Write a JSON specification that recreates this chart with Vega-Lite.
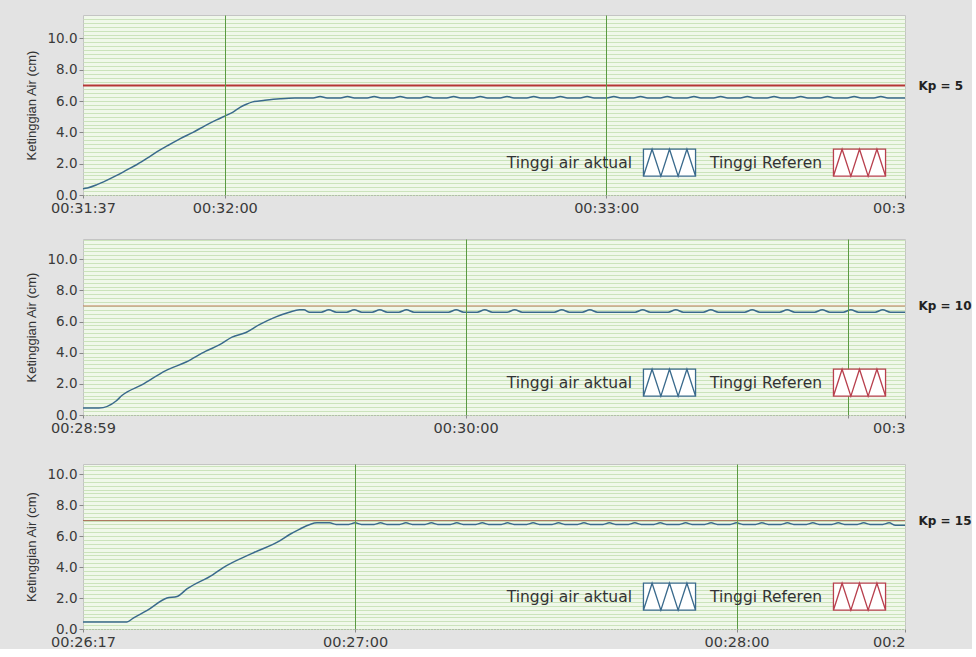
{
  "$schema": "https://vega.github.io/schema/vega-lite/v6.json",
  "background": "#e3e3e3",
  "padding": {"left": 25, "top": 12, "right": 0, "bottom": 0},
  "spacing": 18,
  "resolve": {"scale": {"color": "independent"}, "legend": {"color": "independent"}},
  "config": {
    "view": {"fill": "#f0f8ea", "stroke": "#c4c4c4"},
    "axis": {
      "labelFont": "DejaVu Sans", "labelFontSize": 13.5, "labelColor": "#3a3a3a",
      "titleFont": "Liberation Sans", "titleFontSize": 13, "titleFontWeight": "normal", "titleColor": "#333333",
      "tickColor": "#888888", "domainColor": "#999999"
    },
    "axisX": {"labelFontSize": 14.5},
    "legend": {
      "orient": "bottom-right", "offset": 16, "direction": "horizontal", "title": null, "zindex": 2,
      "symbolType": "M-1.93,-1H1.93V1H-1.93Z M-1.93,1L-1.29,-1L-0.64,1L0,-1L0.64,1L1.29,-1L1.93,1",
      "symbolSize": 729, "symbolStrokeWidth": 1.3, "symbolFillColor": "white",
      "labelAlign": "right", "labelOffset": -52, "columnPadding": 10,
      "labelFont": "DejaVu Sans", "labelFontSize": 15.5, "labelColor": "#333333", "labelLimit": 300
    }
  },
  "vconcat": [
    {
      "width": 822, "height": 180,
      "resolve": {"scale": {"y": "independent"}},
      "layer": [
        {
          "data": {"values": [
            {"t":1897.7,"h":0.4},{"t":1898.4,"h":0.45},{"t":1899.9,"h":0.66},{"t":1901.5,"h":0.95},{"t":1903.0,"h":1.25},{"t":1904.6,"h":1.6},{"t":1906.2,"h":1.95},{"t":1907.8,"h":2.35},{"t":1909.3,"h":2.75},{"t":1911.0,"h":3.15},{"t":1913.0,"h":3.6},{"t":1915.0,"h":4.0},{"t":1917.0,"h":4.45},{"t":1918.7,"h":4.8},{"t":1920.3,"h":5.1},{"t":1921.3,"h":5.3},{"t":1922.4,"h":5.6},{"t":1923.4,"h":5.8},{"t":1924.4,"h":5.95},{"t":1926.3,"h":6.05},{"t":1928.7,"h":6.15},{"t":1931.0,"h":6.2},
            {"t":1933.9,"h":6.2},{"t":1935.0,"h":6.3},{"t":1936.1,"h":6.2},
            {"t":1938.2,"h":6.2},{"t":1939.3,"h":6.3},{"t":1940.4,"h":6.2},
            {"t":1942.4,"h":6.2},{"t":1943.5,"h":6.3},{"t":1944.6,"h":6.2},
            {"t":1946.5,"h":6.2},{"t":1947.6,"h":6.3},{"t":1948.7,"h":6.2},
            {"t":1950.7,"h":6.2},{"t":1951.8,"h":6.3},{"t":1952.9,"h":6.2},
            {"t":1954.9,"h":6.2},{"t":1956.0,"h":6.3},{"t":1957.1,"h":6.2},
            {"t":1959.1,"h":6.2},{"t":1960.2,"h":6.3},{"t":1961.3,"h":6.2},
            {"t":1963.3,"h":6.2},{"t":1964.4,"h":6.3},{"t":1965.5,"h":6.2},
            {"t":1967.5,"h":6.2},{"t":1968.6,"h":6.3},{"t":1969.7,"h":6.2},
            {"t":1971.7,"h":6.2},{"t":1972.8,"h":6.3},{"t":1973.9,"h":6.2},
            {"t":1975.9,"h":6.2},{"t":1977.0,"h":6.3},{"t":1978.1,"h":6.2},
            {"t":1980.1,"h":6.2},{"t":1981.2,"h":6.3},{"t":1982.3,"h":6.2},
            {"t":1984.3,"h":6.2},{"t":1985.4,"h":6.3},{"t":1986.5,"h":6.2},
            {"t":1988.5,"h":6.2},{"t":1989.6,"h":6.3},{"t":1990.7,"h":6.2},
            {"t":1992.7,"h":6.2},{"t":1993.8,"h":6.3},{"t":1994.9,"h":6.2},
            {"t":1996.9,"h":6.2},{"t":1998.0,"h":6.3},{"t":1999.1,"h":6.2},
            {"t":2001.1,"h":6.2},{"t":2002.2,"h":6.3},{"t":2003.3,"h":6.2},
            {"t":2005.3,"h":6.2},{"t":2006.4,"h":6.3},{"t":2007.5,"h":6.2},
            {"t":2009.5,"h":6.2},{"t":2010.6,"h":6.3},{"t":2011.7,"h":6.2},
            {"t":2013.7,"h":6.2},{"t":2014.8,"h":6.3},{"t":2015.9,"h":6.2},
            {"t":2017.9,"h":6.2},{"t":2019.0,"h":6.3},{"t":2020.1,"h":6.2},
            {"t":2022.1,"h":6.2},{"t":2023.2,"h":6.3},{"t":2024.3,"h":6.2},
            {"t":2027.0,"h":6.2}
          ]},
          "mark": {"type": "line", "strokeWidth": 1.5, "interpolate": "monotone"},
          "encoding": {
            "x": {"field": "t", "type": "quantitative",
              "scale": {"domain": [1897.7, 2027], "nice": false, "zero": false},
              "axis": {"title": null, "values": [1897.7, 1920, 1980, 2027], "zindex": 1,
                "labelExpr": "datum.value > 2020 ? slice(utcFormat(datum.value * 1000, '%H:%M:%S'), 0, 4) : utcFormat(datum.value * 1000, '%H:%M:%S')",
                "labelAlign": {"condition": {"test": "datum.value > 2020", "value": "right"}, "value": "center"},
                "labelFlush": false, "labelOverlap": false, "labelPadding": 3,
                "grid": true, "gridColor": {"condition": {"test": "datum.value % 60 == 0", "value": "#5a9a42"}, "value": "transparent"},
                "tickSize": 3, "domainDash": [1, 2]}},
            "y": {"field": "h", "type": "quantitative",
              "scale": {"domain": [0, 11.5], "nice": false},
              "axis": {"title": "Ketinggian Air  (cm)", "values": [0, 2, 4, 6, 8, 10], "format": ".1f", "grid": false, "domain": false, "tickSize": 4, "labelPadding": 2, "titlePadding": 8}},
            "color": {"datum": "Tinggi air aktual", "type": "nominal",
              "scale": {"domain": ["Tinggi air aktual", "Tinggi Referen"], "range": ["#3a6a8c", "#b8404e"]}}
          }
        },
        {
          "data": {"values": [{"sp": 7}]},
          "mark": {"type": "rule", "color": "#b53636", "strokeWidth": 2},
          "encoding": {
            "y": {"field": "sp", "type": "quantitative",
              "scale": {"domain": [0, 11.5], "nice": false},
              "axis": {"orient": "right", "title": null, "zindex": 0,
                "values": [0,0.25,0.5,0.75,1,1.25,1.5,1.75,2,2.25,2.5,2.75,3,3.25,3.5,3.75,4,4.25,4.5,4.75,5,5.25,5.5,5.75,6,6.25,6.5,6.75,7,7.25,7.5,7.75,8,8.25,8.5,8.75,9,9.25,9.5,9.75,10,10.25,10.5,10.75,11,11.25],
                "labelExpr": "datum.value == 7 ? 'Kp = 5' : ''",
                "ticks": false, "domain": false, "grid": true, "gridColor": "#cbe3bb",
                "labelFont": "DejaVu Sans", "labelFontWeight": "bold", "labelFontSize": 12, "labelColor": "#222222",
                "labelPadding": 13, "labelOverlap": false}}
          }
        }
      ]
    },
    {
      "spacing": 24,
      "resolve": {"scale": {"color": "independent"}, "legend": {"color": "independent"}},
      "vconcat": [
        {
          "width": 822, "height": 176,
          "resolve": {"scale": {"y": "independent"}},
          "layer": [
            {
              "data": {"values": [
                {"t":1739.9,"h":0.45},{"t":1742.4,"h":0.45},{"t":1745.1,"h":0.9},{"t":1746.0,"h":1.25},{"t":1749.2,"h":1.95},{"t":1752.9,"h":2.85},{"t":1756.1,"h":3.4},{"t":1759.2,"h":4.1},{"t":1761.3,"h":4.5},{"t":1763.3,"h":5.0},{"t":1765.5,"h":5.3},{"t":1767.6,"h":5.8},{"t":1770.2,"h":6.3},{"t":1772.3,"h":6.6},{"t":1773.9,"h":6.75},{"t":1774.6,"h":6.75},{"t":1775.5,"h":6.6},
                {"t":1777.3,"h":6.6},{"t":1778.5,"h":6.75},{"t":1779.7,"h":6.6},
                {"t":1781.3,"h":6.6},{"t":1782.5,"h":6.75},{"t":1783.7,"h":6.6},
                {"t":1785.3,"h":6.6},{"t":1786.5,"h":6.75},{"t":1787.7,"h":6.6},
                {"t":1789.5,"h":6.6},{"t":1790.7,"h":6.75},{"t":1791.9,"h":6.6},
                {"t":1797.3,"h":6.6},{"t":1798.5,"h":6.75},{"t":1799.7,"h":6.6},
                {"t":1801.8,"h":6.6},{"t":1803.0,"h":6.75},{"t":1804.2,"h":6.6},
                {"t":1806.5,"h":6.6},{"t":1807.7,"h":6.75},{"t":1808.9,"h":6.6},
                {"t":1813.9,"h":6.6},{"t":1815.1,"h":6.75},{"t":1816.3,"h":6.6},
                {"t":1818.3,"h":6.6},{"t":1819.5,"h":6.75},{"t":1820.7,"h":6.6},
                {"t":1826.6,"h":6.6},{"t":1827.8,"h":6.75},{"t":1829.0,"h":6.6},
                {"t":1831.8,"h":6.6},{"t":1833.0,"h":6.75},{"t":1834.2,"h":6.6},
                {"t":1837.3,"h":6.6},{"t":1838.5,"h":6.75},{"t":1839.7,"h":6.6},
                {"t":1843.8,"h":6.6},{"t":1845.0,"h":6.75},{"t":1846.2,"h":6.6},
                {"t":1849.3,"h":6.6},{"t":1850.5,"h":6.75},{"t":1851.7,"h":6.6},
                {"t":1854.8,"h":6.6},{"t":1856.0,"h":6.75},{"t":1857.2,"h":6.6},
                {"t":1859.3,"h":6.6},{"t":1860.5,"h":6.75},{"t":1861.7,"h":6.6},
                {"t":1864.3,"h":6.6},{"t":1865.5,"h":6.75},{"t":1866.7,"h":6.6},
                {"t":1869.0,"h":6.6}
              ]},
              "mark": {"type": "line", "strokeWidth": 1.5, "interpolate": "monotone"},
              "encoding": {
                "x": {"field": "t", "type": "quantitative",
                  "scale": {"domain": [1739.9, 1869], "nice": false, "zero": false},
                  "axis": {"title": null, "values": [1739.9, 1800, 1860, 1869], "zindex": 1,
                    "labelExpr": "datum.value > 1865 ? slice(utcFormat(datum.value * 1000, '%H:%M:%S'), 0, 4) : datum.value > 1850 ? '' : utcFormat(datum.value * 1000, '%H:%M:%S')",
                    "labelAlign": {"condition": {"test": "datum.value > 1865", "value": "right"}, "value": "center"},
                    "labelFlush": false, "labelOverlap": false, "labelPadding": 3,
                    "grid": true, "gridColor": {"condition": {"test": "datum.value % 60 == 0", "value": "#5a9a42"}, "value": "transparent"},
                    "tickSize": 3, "domainDash": [1, 2]}},
                "y": {"field": "h", "type": "quantitative",
                  "scale": {"domain": [0, 11.3], "nice": false},
                  "axis": {"title": "Ketinggian Air  (cm)", "values": [0, 2, 4, 6, 8, 10], "format": ".1f", "grid": false, "domain": false, "tickSize": 4, "labelPadding": 2, "titlePadding": 8}},
                "color": {"datum": "Tinggi air aktual", "type": "nominal",
                  "scale": {"domain": ["Tinggi air aktual", "Tinggi Referen"], "range": ["#3a6a8c", "#b8404e"]}}
              }
            },
            {
              "data": {"values": [{"sp": 7}]},
              "mark": {"type": "rule", "color": "#c0805e", "strokeWidth": 1},
              "encoding": {
                "y": {"field": "sp", "type": "quantitative",
                  "scale": {"domain": [0, 11.3], "nice": false},
                  "axis": {"orient": "right", "title": null, "zindex": 0,
                    "values": [0,0.25,0.5,0.75,1,1.25,1.5,1.75,2,2.25,2.5,2.75,3,3.25,3.5,3.75,4,4.25,4.5,4.75,5,5.25,5.5,5.75,6,6.25,6.5,6.75,7,7.25,7.5,7.75,8,8.25,8.5,8.75,9,9.25,9.5,9.75,10,10.25,10.5,10.75,11,11.25],
                    "labelExpr": "datum.value == 7 ? 'Kp = 10' : ''",
                    "ticks": false, "domain": false, "grid": true, "gridColor": "#cbe3bb",
                    "labelFont": "DejaVu Sans", "labelFontWeight": "bold", "labelFontSize": 12, "labelColor": "#222222",
                    "labelPadding": 13, "labelOverlap": false}}
              }
            }
          ]
        },
        {
          "width": 822, "height": 165,
          "resolve": {"scale": {"y": "independent"}},
          "layer": [
            {
              "data": {"values": [
                {"t":1577.2,"h":0.45},{"t":1584.1,"h":0.45},{"t":1585.1,"h":0.7},{"t":1587.3,"h":1.2},{"t":1590.4,"h":2.0},{"t":1592.0,"h":2.1},{"t":1593.6,"h":2.6},{"t":1597.6,"h":3.5},{"t":1599.2,"h":3.95},{"t":1603.9,"h":4.9},{"t":1608.2,"h":5.7},{"t":1609.7,"h":6.1},{"t":1611.3,"h":6.45},{"t":1612.9,"h":6.75},{"t":1614.0,"h":6.85},{"t":1616.0,"h":6.85},{"t":1617.0,"h":6.75},
                {"t":1619.0,"h":6.75},{"t":1620.0,"h":6.85},{"t":1621.0,"h":6.75},
                {"t":1623.0,"h":6.75},{"t":1624.0,"h":6.85},{"t":1625.0,"h":6.75},
                {"t":1627.0,"h":6.75},{"t":1628.0,"h":6.85},{"t":1629.0,"h":6.75},
                {"t":1631.0,"h":6.75},{"t":1632.0,"h":6.85},{"t":1633.0,"h":6.75},
                {"t":1635.0,"h":6.75},{"t":1636.0,"h":6.85},{"t":1637.0,"h":6.75},
                {"t":1639.0,"h":6.75},{"t":1640.0,"h":6.85},{"t":1641.0,"h":6.75},
                {"t":1643.0,"h":6.75},{"t":1644.0,"h":6.85},{"t":1645.0,"h":6.75},
                {"t":1647.0,"h":6.75},{"t":1648.0,"h":6.85},{"t":1649.0,"h":6.75},
                {"t":1651.0,"h":6.75},{"t":1652.0,"h":6.85},{"t":1653.0,"h":6.75},
                {"t":1655.0,"h":6.75},{"t":1656.0,"h":6.85},{"t":1657.0,"h":6.75},
                {"t":1659.0,"h":6.75},{"t":1660.0,"h":6.85},{"t":1661.0,"h":6.75},
                {"t":1663.0,"h":6.75},{"t":1664.0,"h":6.85},{"t":1665.0,"h":6.75},
                {"t":1667.0,"h":6.75},{"t":1668.0,"h":6.85},{"t":1669.0,"h":6.75},
                {"t":1671.0,"h":6.75},{"t":1672.0,"h":6.85},{"t":1673.0,"h":6.75},
                {"t":1675.0,"h":6.75},{"t":1676.0,"h":6.85},{"t":1677.0,"h":6.75},
                {"t":1679.0,"h":6.75},{"t":1680.0,"h":6.85},{"t":1681.0,"h":6.75},
                {"t":1683.0,"h":6.75},{"t":1684.0,"h":6.85},{"t":1685.0,"h":6.75},
                {"t":1687.0,"h":6.75},{"t":1688.0,"h":6.85},{"t":1689.0,"h":6.75},
                {"t":1691.0,"h":6.75},{"t":1692.0,"h":6.85},{"t":1693.0,"h":6.75},
                {"t":1695.0,"h":6.75},{"t":1696.0,"h":6.85},{"t":1697.0,"h":6.75},
                {"t":1699.0,"h":6.75},{"t":1700.0,"h":6.85},{"t":1701.0,"h":6.75},
                {"t":1703.0,"h":6.75},{"t":1704.0,"h":6.85},{"t":1705.0,"h":6.7},
                {"t":1706.5,"h":6.7}
              ]},
              "mark": {"type": "line", "strokeWidth": 1.5, "interpolate": "monotone"},
              "encoding": {
                "x": {"field": "t", "type": "quantitative",
                  "scale": {"domain": [1577.2, 1706.5], "nice": false, "zero": false},
                  "axis": {"title": null, "values": [1577.2, 1620, 1680, 1706.5], "zindex": 1,
                    "labelExpr": "datum.value > 1700 ? slice(utcFormat(datum.value * 1000, '%H:%M:%S'), 0, 4) : utcFormat(datum.value * 1000, '%H:%M:%S')",
                    "labelAlign": {"condition": {"test": "datum.value > 1700", "value": "right"}, "value": "center"},
                    "labelFlush": false, "labelOverlap": false, "labelPadding": 3,
                    "grid": true, "gridColor": {"condition": {"test": "datum.value % 60 == 0", "value": "#5a9a42"}, "value": "transparent"},
                    "tickSize": 3, "domainDash": [1, 2]}},
                "y": {"field": "h", "type": "quantitative",
                  "scale": {"domain": [0, 10.65], "nice": false},
                  "axis": {"title": "Ketinggian Air  (cm)", "values": [0, 2, 4, 6, 8, 10], "format": ".1f", "grid": false, "domain": false, "tickSize": 4, "labelPadding": 2, "titlePadding": 8}},
                "color": {"datum": "Tinggi air aktual", "type": "nominal",
                  "scale": {"domain": ["Tinggi air aktual", "Tinggi Referen"], "range": ["#3a6a8c", "#b8404e"]}}
              }
            },
            {
              "data": {"values": [{"sp": 7}]},
              "mark": {"type": "rule", "color": "#a8735a", "strokeWidth": 1},
              "encoding": {
                "y": {"field": "sp", "type": "quantitative",
                  "scale": {"domain": [0, 10.65], "nice": false},
                  "axis": {"orient": "right", "title": null, "zindex": 0,
                    "values": [0,0.25,0.5,0.75,1,1.25,1.5,1.75,2,2.25,2.5,2.75,3,3.25,3.5,3.75,4,4.25,4.5,4.75,5,5.25,5.5,5.75,6,6.25,6.5,6.75,7,7.25,7.5,7.75,8,8.25,8.5,8.75,9,9.25,9.5,9.75,10,10.25,10.5],
                    "labelExpr": "datum.value == 7 ? 'Kp = 15' : ''",
                    "ticks": false, "domain": false, "grid": true, "gridColor": "#cbe3bb",
                    "labelFont": "DejaVu Sans", "labelFontWeight": "bold", "labelFontSize": 12, "labelColor": "#222222",
                    "labelPadding": 13, "labelOverlap": false}}
              }
            }
          ]
        }
      ]
    }
  ]
}
